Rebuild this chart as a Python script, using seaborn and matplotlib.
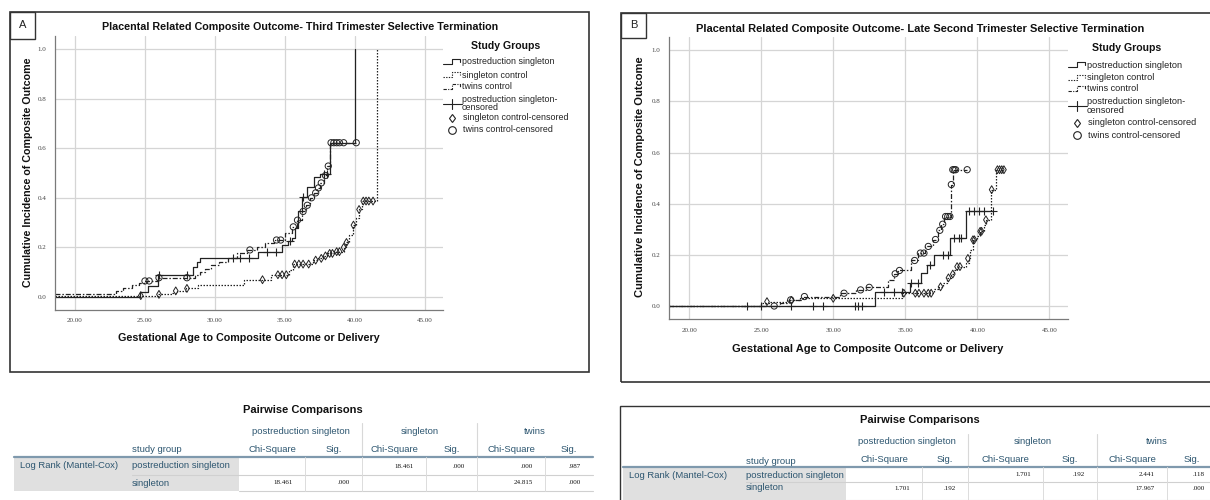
import numpy as np
import pandas as pd
import matplotlib.pyplot as plt
import seaborn as sns
from matplotlib.lines import Line2D
from matplotlib.patches import Rectangle

# ---- values: gestational week, cumulative incidence ----
# panel A - third trimester selective termination
a_post_t = [18.6, 24.65, 25.2, 25.9, 28.4, 28.7, 28.9, 33.1, 34.8, 35.2, 35.5, 35.7, 35.95, 36.2, 36.55, 37.1, 37.5, 38.2, 40.0]
a_post_y = [0.0, 0.02, 0.043, 0.088, 0.12, 0.14, 0.156, 0.183, 0.21, 0.225, 0.24, 0.28, 0.345, 0.405, 0.445, 0.485, 0.495, 0.622, 1.0]
a_post_cens_t = [26.0, 28.0, 31.3, 31.8, 32.4, 33.7, 34.4, 35.4, 36.3, 37.8, 38.0]
a_post_cens_y = [0.088, 0.088, 0.156, 0.156, 0.156, 0.183, 0.183, 0.225, 0.405, 0.495, 0.495]

a_sing_t = [18.6, 25.9, 26.9, 27.3, 27.9, 28.8, 32.1, 34.0, 35.3, 35.6, 37.0, 37.4, 37.7, 38.0, 38.6, 39.2, 39.4, 39.6, 39.9, 40.1, 40.3, 40.5, 41.6]
a_sing_y = [0.006, 0.011, 0.018, 0.025, 0.035, 0.048, 0.07, 0.09, 0.11, 0.133, 0.149, 0.156, 0.166, 0.176, 0.183, 0.2, 0.22, 0.25, 0.29, 0.32, 0.353, 0.387, 1.0]
a_sing_cens_t = [24.7, 26.0, 27.2, 28.0, 33.4, 34.5, 34.8, 35.1, 35.7, 36.0, 36.3, 36.7, 37.2, 37.6, 37.9, 38.2, 38.4, 38.7, 38.9, 39.2, 39.4, 39.9, 40.3, 40.6, 40.8, 41.0, 41.3]
a_sing_cens_y = [0.006, 0.011, 0.025, 0.035, 0.07, 0.09, 0.09, 0.09, 0.133, 0.133, 0.133, 0.133, 0.149, 0.156, 0.166, 0.176, 0.176, 0.183, 0.183, 0.2, 0.22, 0.29, 0.353, 0.387, 0.387, 0.387, 0.387]

a_twin_t = [18.6, 22.9, 23.4, 24.1, 24.6, 24.9, 25.9, 28.6, 28.9, 29.3, 29.7, 30.3, 30.9, 31.6, 32.3, 33.0, 33.6, 34.2, 35.0, 35.5, 35.9, 36.2, 36.5, 36.8, 37.1, 37.3, 37.5, 37.8, 38.0, 38.2, 40.1]
a_twin_y = [0.014, 0.025, 0.035, 0.048, 0.058, 0.065, 0.078, 0.09, 0.102, 0.115, 0.128, 0.14, 0.156, 0.176, 0.19, 0.203, 0.216, 0.23, 0.26, 0.283, 0.31, 0.345, 0.37, 0.4, 0.42, 0.44, 0.46, 0.49, 0.528, 0.622, 0.622]
a_twin_cens_t = [25.0, 25.3, 26.0, 28.0, 32.5, 34.4, 34.7, 35.6, 35.9, 36.3, 36.6, 36.9, 37.2, 37.4, 37.6, 37.9, 38.1, 38.3, 38.5, 38.7, 38.9, 39.2, 40.1]
a_twin_cens_y = [0.065, 0.065, 0.078, 0.078, 0.19, 0.23, 0.23, 0.283, 0.31, 0.345, 0.37, 0.4, 0.42, 0.44, 0.46, 0.49, 0.528, 0.622, 0.622, 0.622, 0.622, 0.622, 0.622]

# panel B - late second trimester selective termination
b_post_t = [18.6, 32.9, 35.3, 36.1, 36.5, 37.0, 38.1, 39.25, 41.1]
b_post_y = [0.0, 0.056, 0.09, 0.13, 0.16, 0.2, 0.265, 0.37, 0.37]
b_post_cens_t = [24.0, 25.0, 27.1, 28.6, 29.3, 31.5, 31.7, 32.0, 33.55, 34.2, 34.8, 35.4, 35.9, 36.75, 37.6, 38.0, 38.4, 38.7, 38.9, 39.4, 39.8, 40.1, 40.5, 41.1]
b_post_cens_y = [0, 0, 0, 0, 0, 0, 0, 0, 0.056, 0.056, 0.056, 0.09, 0.09, 0.16, 0.2, 0.2, 0.265, 0.265, 0.265, 0.37, 0.37, 0.37, 0.37, 0.37]

b_sing_t = [18.6, 25.0, 25.6, 26.8, 27.7, 34.8, 37.0, 37.3, 37.6, 37.9, 38.2, 38.4, 38.6, 39.2, 39.4, 39.5, 39.7, 40.0, 40.2, 40.5, 40.6, 40.95, 41.3, 41.85]
b_sing_y = [0.0, 0.01, 0.017, 0.022, 0.03, 0.05, 0.065, 0.075, 0.09, 0.11, 0.125, 0.14, 0.154, 0.17, 0.186, 0.22, 0.259, 0.275, 0.292, 0.315, 0.337, 0.455, 0.533, 0.533]
b_sing_cens_t = [25.4, 27.1, 30.0, 34.9, 35.7, 35.95, 36.3, 36.6, 36.8, 37.45, 38.0, 38.3, 38.6, 38.8, 39.35, 39.7, 39.8, 40.2, 40.3, 40.6, 41.0, 41.4, 41.55, 41.7, 41.85]
b_sing_cens_y = [0.017, 0.022, 0.03, 0.05, 0.05, 0.05, 0.05, 0.05, 0.05, 0.075, 0.11, 0.125, 0.154, 0.154, 0.186, 0.259, 0.259, 0.292, 0.292, 0.337, 0.455, 0.533, 0.533, 0.533, 0.533]

b_twin_t = [18.6, 26.3, 26.9, 27.8, 30.5, 31.6, 32.3, 33.8, 34.2, 34.5, 35.4, 35.9, 36.4, 36.9, 37.3, 37.5, 37.7, 38.2, 38.3, 39.3]
b_twin_y = [0.0, 0.012, 0.024, 0.037, 0.05, 0.063, 0.073, 0.1, 0.126, 0.139, 0.178, 0.207, 0.233, 0.26, 0.296, 0.32, 0.35, 0.475, 0.533, 0.533]
b_twin_cens_t = [25.9, 27.05, 28.0, 30.75, 31.9, 32.5, 34.3, 34.6, 35.65, 36.05, 36.3, 36.6, 37.1, 37.4, 37.6, 37.8, 37.95, 38.1, 38.2, 38.3, 38.4, 38.5, 39.3]
b_twin_cens_y = [0.0, 0.024, 0.037, 0.05, 0.063, 0.073, 0.126, 0.139, 0.178, 0.207, 0.207, 0.233, 0.26, 0.296, 0.32, 0.35, 0.35, 0.35, 0.475, 0.533, 0.533, 0.533, 0.533]

x_ticks = [20, 25, 30, 35, 40, 45]
x_tick_labels = ['20.00', '25.00', '30.00', '35.00', '40.00', '45.00']
y_ticks = [0.0, 0.2, 0.4, 0.6, 0.8, 1.0]
y_tick_labels = ['0.0', '0.2', '0.4', '0.6', '0.8', '1.0']

legend_labels = ['postreduction singleton', 'singleton control', 'twins control',
                 'postreduction singleton-\ncensored', 'singleton control-censored',
                 'twins control-censored']

# pairwise log rank tables
groups = ['postreduction singleton', 'singleton', 'twins']
sub_heads = ['Chi-Square', 'Sig.'] * 3
row_labels = ['postreduction singleton', 'singleton']
tab_a_vals = [['', '', '18.461', '.000', '.000', '.987'],
              ['18.461', '.000', '', '', '24.815', '.000']]
tab_b_vals = [['', '', '1.701', '.192', '2.441', '.118'],
              ['1.701', '.192', '', '', '17.967', '.000']]

W, H = 1210, 500
INK = '#222222'
GRID = '#d5d5d5'
TEAL = '#2d5670'


def fx(x):
    return x / W


def fy(y):
    return 1 - y / H


def km_panel(ax, post, post_c, sing, sing_c, twin, twin_c):
    sns.lineplot(x=post[0], y=post[1], drawstyle='steps-post', estimator=None, sort=False,
                 color=INK, linewidth=0.9, ax=ax)
    sns.lineplot(x=sing[0], y=sing[1], drawstyle='steps-post', estimator=None, sort=False,
                 color=INK, linewidth=0.9, linestyle=(0, (1.2, 1.2)), ax=ax)
    sns.lineplot(x=twin[0], y=twin[1], drawstyle='steps-post', estimator=None, sort=False,
                 color=INK, linewidth=0.9, linestyle=(0, (4, 1.5, 1.2, 1.5)), ax=ax)
    sns.scatterplot(x=post_c[0], y=post_c[1], marker='+', s=30, color=INK, linewidth=0.8, ax=ax, zorder=3)
    sns.scatterplot(x=sing_c[0], y=sing_c[1], marker='d', s=16, color=INK, facecolor='none',
                    edgecolor=INK, linewidth=0.7, ax=ax, zorder=3)
    sns.scatterplot(x=twin_c[0], y=twin_c[1], marker='o', s=20, color=INK, facecolor='none',
                    edgecolor=INK, linewidth=0.7, ax=ax, zorder=3)
    ax.set_xlim(18.57, 46.3)
    ax.set_ylim(-0.052, 1.052)
    ax.set_xticks(x_ticks)
    ax.set_xticklabels(x_tick_labels)
    ax.set_yticks(y_ticks)
    ax.set_yticklabels(y_tick_labels)
    ax.set_xlabel('')
    ax.set_ylabel('')
    ax.grid(True, color=GRID, linewidth=0.9)
    ax.set_axisbelow(True)
    for side in ['top', 'right']:
        ax.spines[side].set_visible(False)
    for side in ['left', 'bottom']:
        ax.spines[side].set_color('#7a7a7a')
        ax.spines[side].set_linewidth(0.9)
    ax.tick_params(length=0, pad=6, labelsize=5, labelcolor='#444444')
    for lab in ax.get_xticklabels() + ax.get_yticklabels():
        lab.set_family('Liberation Serif')


def legend_block(fig, x0, title_cx, title_y, rows, fs):
    fig.text(fx(title_cx), fy(title_y), 'Study Groups', ha='center', va='center',
             fontsize=7.6, fontweight='bold', color='#111111')
    styles = ['-', (0, (1.2, 1.2)), (0, (3, 1.2, 1, 1.2))]
    for i in range(3):
        y = rows[i]
        xs = [x0, x0 + 9, x0 + 9, x0 + 17, x0 + 17]
        ys = [y + 2, y + 2, y - 3, y - 3, y]
        fig.add_artist(Line2D([fx(v) for v in xs], [fy(v) for v in ys], transform=fig.transFigure,
                              linestyle=styles[i], linewidth=0.8, color=INK))
        fig.text(fx(x0 + 19), fy(y), legend_labels[i], ha='left', va='center', fontsize=fs, color='#222222')
    y = rows[3]
    fig.add_artist(Line2D([fx(x0), fx(x0 + 19)], [fy(y), fy(y)], transform=fig.transFigure,
                          linewidth=0.8, color=INK))
    fig.add_artist(Line2D([fx(x0 + 9), fx(x0 + 9)], [fy(y - 5), fy(y + 5)], transform=fig.transFigure,
                          linewidth=0.8, color=INK))
    fig.text(fx(x0 + 19), fy(y), legend_labels[3], ha='left', va='center', fontsize=fs,
             color='#222222', linespacing=0.95)
    for i, mk in zip([4, 5], ['d', 'o']):
        y = rows[i]
        fig.add_artist(Line2D([fx(x0 + 9)], [fy(y)], transform=fig.transFigure, marker=mk,
                              markersize=5.5 if mk == 'o' else 4.5, markerfacecolor='none',
                              markeredgecolor=INK, markeredgewidth=0.8, linestyle='none'))
        fig.text(fx(x0 + 20), fy(y), legend_labels[i], ha='left', va='center', fontsize=fs, color='#222222')


def table_block(fig, g):
    left, edges = g['left'], g['edges']
    fig.text(fx((left + edges[-1]) / 2), fy(g['title_y']), 'Pairwise Comparisons', ha='center',
             va='center', fontsize=8, fontweight='bold', color='#111111')
    # grey block for the row header area
    fig.add_artist(Rectangle((fx(left), fy(g['bottom'])), (edges[0] - left) / W,
                             (g['bottom'] - g['rule_y']) / H, transform=fig.transFigure,
                             facecolor='#e0e0e0', edgecolor='none'))
    for k, name in enumerate(groups):
        cx = (edges[2 * k] + edges[2 * k + 2]) / 2
        fig.text(fx(cx), fy(g['h1_y']), name, ha='center', va='center', fontsize=6.8, color=TEAL)
    for k in (2, 4):
        fig.add_artist(Line2D([fx(edges[k])] * 2, [fy(g['head_top']), fy(g['rule_y'])],
                              transform=fig.transFigure, color='#d8d8d8', linewidth=0.8))
    for k, name in enumerate(sub_heads):
        cx = (edges[k] + edges[k + 1]) / 2
        fig.text(fx(cx), fy(g['h2_y']), name, ha='center', va='center', fontsize=6.8, color=TEAL)
    fig.text(fx(g['col2']), fy(g['h2_y'] + 1), 'study group', ha='left', va='center', fontsize=6.8, color=TEAL)
    fig.add_artist(Line2D([fx(left), fx(edges[-1])], [fy(g['rule_y'])] * 2, transform=fig.transFigure,
                          color='#7f99ad', linewidth=1.6))
    fig.add_artist(Line2D([fx(g['col2']), fx(edges[-1])], [fy(g['div_y'])] * 2, transform=fig.transFigure,
                          color='#d0d0d0', linewidth=0.8))
    fig.add_artist(Line2D([fx(edges[0]), fx(edges[-1])], [fy(g['bottom'])] * 2, transform=fig.transFigure,
                          color='#d0d0d0', linewidth=0.8))
    for e in edges[1:-1]:
        fig.add_artist(Line2D([fx(e)] * 2, [fy(g['rule_y']), fy(g['bottom'])], transform=fig.transFigure,
                              color='#dcdcdc', linewidth=0.7))
    fig.text(fx(left + 6), fy(g['r_y'][0]), 'Log Rank (Mantel-Cox)', ha='left', va='center',
             fontsize=6.8, color=TEAL)
    for r, lab in enumerate(row_labels):
        fig.text(fx(g['col2']), fy(g['r_y'][r]), lab, ha='left', va='center', fontsize=6.8, color=TEAL)
        for k, v in enumerate(g['vals'][r]):
            if v:
                fig.text(fx(edges[k + 1] - 12), fy(g['r_y'][r]), v, ha='right', va='center',
                         fontsize=5, color='#111111', family='Liberation Serif')


sns.set_style('white')
plt.rcParams['font.family'] = ['Liberation Sans', 'DejaVu Sans']

fig = plt.figure(figsize=(12.1, 5.0), dpi=100)

# panel frames and letter boxes
for (x0, y0, x1, y1) in [(10, 12, 589, 372), (621, 13, 1225, 382)]:
    fig.add_artist(Rectangle((fx(x0), fy(y1)), (x1 - x0) / W, (y1 - y0) / H, transform=fig.transFigure,
                             fill=False, edgecolor='#333333', linewidth=1.2))
for (x0, y0, x1, y1, letter) in [(10, 12, 35, 39, 'A'), (621, 13, 646, 38, 'B')]:
    fig.add_artist(Rectangle((fx(x0), fy(y1)), (x1 - x0) / W, (y1 - y0) / H, transform=fig.transFigure,
                             fill=False, edgecolor='#333333', linewidth=1.0))
    fig.text(fx((x0 + x1) / 2), fy((y0 + y1) / 2), letter, ha='center', va='center', fontsize=8, color='#222222')

ax_a = fig.add_axes([fx(55), fy(310), (443 - 55) / W, (310 - 36) / H])
km_panel(ax_a, (a_post_t, a_post_y), (a_post_cens_t, a_post_cens_y),
         (a_sing_t, a_sing_y), (a_sing_cens_t, a_sing_cens_y),
         (a_twin_t, a_twin_y), (a_twin_cens_t, a_twin_cens_y))

ax_b = fig.add_axes([fx(668.6), fy(319.3), (1068 - 668.6) / W, (319.3 - 37) / H])
km_panel(ax_b, (b_post_t, b_post_y), (b_post_cens_t, b_post_cens_y),
         (b_sing_t, b_sing_y), (b_sing_cens_t, b_sing_cens_y),
         (b_twin_t, b_twin_y), (b_twin_cens_t, b_twin_cens_y))

fig.text(fx(300), fy(27), 'Placental Related Composite Outcome- Third Trimester Selective Termination',
         ha='center', va='center', fontsize=7.75, fontweight='bold', color='#111111')
fig.text(fx(920), fy(29), 'Placental Related Composite Outcome- Late Second Trimester Selective Termination',
         ha='center', va='center', fontsize=8.05, fontweight='bold', color='#111111')
fig.text(fx(249), fy(338), 'Gestational Age to Composite Outcome or Delivery', ha='center', va='center',
         fontsize=7.75, fontweight='bold', color='#111111')
fig.text(fx(868), fy(349), 'Gestational Age to Composite Outcome or Delivery', ha='center', va='center',
         fontsize=8.0, fontweight='bold', color='#111111')
fig.text(fx(28), fy(172), 'Cumulative Incidence of Composite Outcome', ha='center', va='center',
         rotation=90, fontsize=7.7, fontweight='bold', color='#111111')
fig.text(fx(640), fy(177), 'Cumulative Incidence of Composite Outcome', ha='center', va='center',
         rotation=90, fontsize=8.0, fontweight='bold', color='#111111')

legend_block(fig, 443, 506, 46, [62, 75, 87, 103.5, 118, 130], 6.4)
legend_block(fig, 1068, 1127, 48, [65, 78, 89, 106, 122.7, 135], 6.6)

# tables
fig.add_artist(Rectangle((fx(620), fy(510)), (1230 - 620) / W, (510 - 406) / H, transform=fig.transFigure,
                         fill=False, edgecolor='#333333', linewidth=1.0))
table_block(fig, dict(left=13.6, col2=131.5, edges=[239, 305, 362, 426, 477, 545, 593], title_y=410,
                      h1_y=432, h2_y=449, head_top=423, rule_y=457, r_y=[466, 483], div_y=474.5,
                      bottom=491, vals=tab_a_vals))
table_block(fig, dict(left=623, col2=746, edges=[846, 922, 968, 1043, 1097, 1167, 1217], title_y=420,
                      h1_y=442, h2_y=460, head_top=434, rule_y=467, r_y=[475, 488], div_y=481.5,
                      bottom=500, vals=tab_b_vals))

fig.savefig('out.png', dpi=100)
